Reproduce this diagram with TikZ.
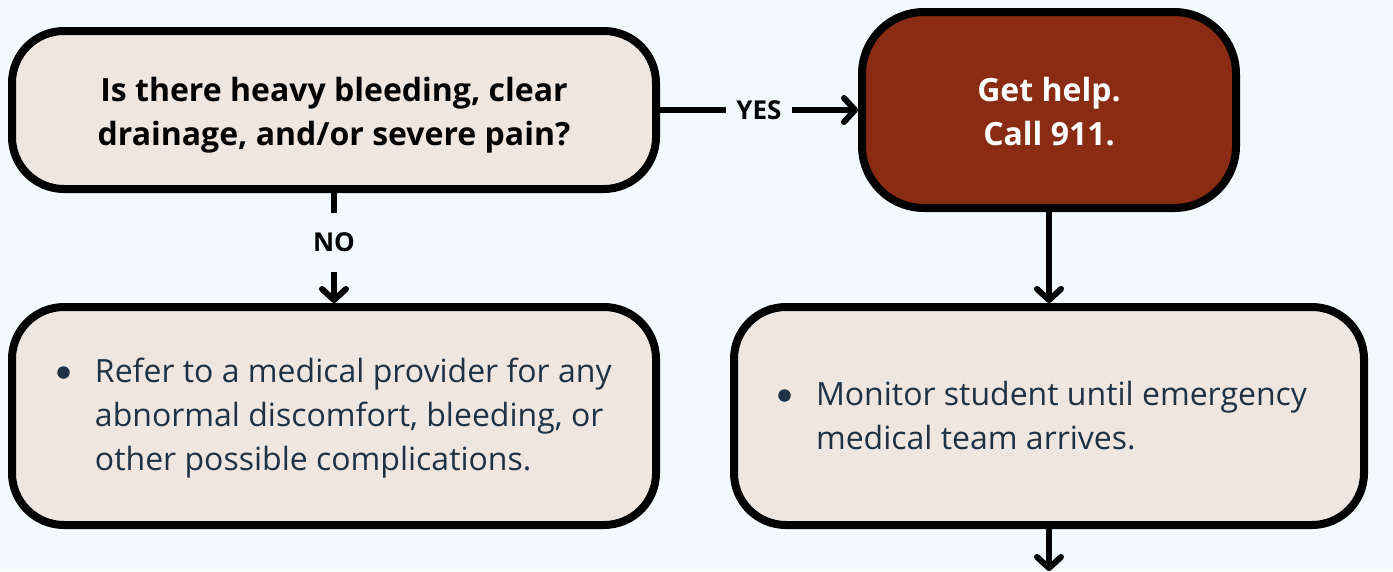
\documentclass[tikz,border=0pt]{standalone}
\usepackage{fontspec}
\setmainfont{Open Sans}
\usetikzlibrary{arrows.meta}
\definecolor{bgc}{HTML}{F4F9FE}
\definecolor{boxfill}{HTML}{EFE6E0}
\definecolor{redfill}{HTML}{8A2C14}
\definecolor{navy}{HTML}{1E3246}
\tikzset{
  flowbox/.style={draw=black, line width=8pt, fill=boxfill, rounded corners=52pt, inner sep=0pt},
  qtext/.style={font=\fontsize{32}{44}\selectfont\bfseries},
  bodytext/.style={font=\fontsize{32}{44}\selectfont, text=navy},
  conn/.style={line width=6pt, -{Straight Barb[length=11pt, width=24pt, line cap=round, line join=round]}},
  lbl/.style={fill=bgc, font=\fontsize{26}{28}\selectfont\bfseries, inner xsep=10pt, inner ysep=20pt}
}
\newcommand{\bul}{\hspace{1.25pt}\tikz[baseline=-9.5pt]\fill[navy] (6.25pt,0pt) circle (6.25pt);}
\newcommand{\lowered}[2]{\raisebox{-#1}[\height][\depth]{#2}}
\begin{document}
\begin{tikzpicture}[x=1pt, y=-1pt]
\useasboundingbox[fill=bgc] (0,0) rectangle (1393,571);
\node[flowbox, qtext, minimum width=644pt, minimum height=158pt] (q) at (334,110)
  {\lowered{4.2pt}{\begin{tabular}{@{}c@{}}Is there heavy bleeding, clear\\drainage, and/or severe pain?\end{tabular}}};
\node[flowbox, qtext, fill=redfill, text=white, rounded corners=62pt, minimum width=374pt, minimum height=196pt] (help) at (1049,110)
  {\lowered{4.2pt}{\begin{tabular}{@{}c@{}}Get help.\\Call 911.\end{tabular}}};
\node[flowbox, bodytext, minimum width=644pt, minimum height=218pt] (refer) at (334,416)
  {\lowered{1.2pt}{\makebox[556pt][l]{\begin{tabular}{@{}p{39pt}@{}l@{}}\bul & Refer to a medical provider for any\\ & abnormal discomfort, bleeding, or\\ & other possible complications.\end{tabular}}}};
\node[flowbox, bodytext, minimum width=630pt, minimum height=218pt] (monitor) at (1049,416)
  {\lowered{2.2pt}{\makebox[544pt][l]{\begin{tabular}{@{}p{39pt}@{}l@{}}\bul & Monitor student until emergency\\ & medical team arrives.\end{tabular}}}};
\coordinate (out) at (1049,571);
\draw[conn] (q.east) -- node[lbl] {YES} (help.west);
\draw[conn] (q.south) -- node[lbl, pos=0.45] {NO} (refer.north);
\draw[conn] (help.south) -- (monitor.north);
\draw[conn] (monitor.south) -- (out);
\end{tikzpicture}
\end{document}
